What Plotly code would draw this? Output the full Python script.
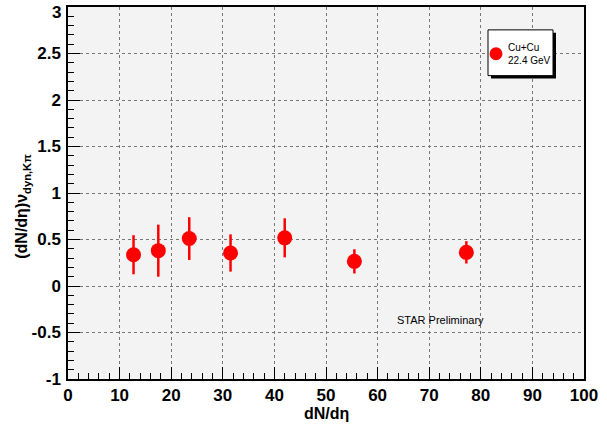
import plotly.graph_objects as go

# Data
dndeta = [12.7, 17.5, 23.5, 31.5, 42.0, 55.5, 77.2]
nu_dyn = [0.336, 0.380, 0.510, 0.355, 0.518, 0.265, 0.362]
err = [0.21, 0.28, 0.23, 0.20, 0.21, 0.13, 0.12]

x_ticks = [0, 10, 20, 30, 40, 50, 60, 70, 80, 90, 100]
y_ticks = [-1, -0.5, 0, 0.5, 1, 1.5, 2, 2.5]
y_ticklabels = ["-1", "-0.5", "0", "0.5", "1", "1.5", "2", "2.5"]
y_top_label = "3"

RED = "#ff0000"
FONT = "Liberation Sans"

fig = go.Figure()
fig.add_trace(go.Scatter(
    x=dndeta, y=nu_dyn, mode="markers",
    marker=dict(color=RED, size=15, line=dict(width=0)),
    error_y=dict(type="data", array=err, color=RED, thickness=2.5, width=0),
    showlegend=False,
))

fig.update_layout(
    width=607, height=424,
    margin=dict(l=68, r=23, t=5, b=45),
    paper_bgcolor="white",
    plot_bgcolor="#f3f3f3",
    font=dict(family=FONT, color="black"),
    xaxis=dict(
        range=[0, 100], tickvals=x_ticks, ticktext=[str(v) for v in x_ticks],
        showline=True, linecolor="black", linewidth=1.5, mirror=True,
        ticks="inside", ticklen=12, tickcolor="black", tickwidth=1,
        minor=dict(dtick=2, ticks="inside", ticklen=6, tickcolor="black", showgrid=False),
        showgrid=True, gridcolor="#777777", griddash="dot", gridwidth=1,
        zeroline=False,
        tickfont=dict(family=FONT, size=17, color="black", weight="bold"),
    ),
    yaxis=dict(
        range=[-1, 3], tickvals=y_ticks + [3], ticktext=y_ticklabels + [""],
        showline=True, linecolor="black", linewidth=1.5, mirror=True,
        ticks="inside", ticklen=12, tickcolor="black", tickwidth=1,
        minor=dict(dtick=0.1, ticks="inside", ticklen=6, tickcolor="black", showgrid=False),
        showgrid=True, gridcolor="#777777", griddash="dot", gridwidth=1,
        zeroline=False,
        tickfont=dict(family=FONT, size=17, color="black", weight="bold"),
        ticklabelstandoff=2,
    ),
)

# Top y label (drawn as annotation so it is not dropped at the edge)
fig.add_annotation(
    text=y_top_label, xref="paper", yref="paper", x=0, xshift=-5, y=1, yshift=6,
    xanchor="right", yanchor="top", showarrow=False,
    font=dict(family=FONT, size=17, color="black", weight="bold"),
)

# Axis titles
fig.add_annotation(
    text="dN/dη", xref="paper", yref="paper", x=0.5, y=0, yshift=-24,
    xanchor="center", yanchor="top", showarrow=False,
    font=dict(family=FONT, size=16, color="black", weight="bold"),
)
fig.add_annotation(
    text="(dN/dη)ν<sub>dyn,Kπ</sub>", xref="paper", yref="paper",
    x=0, xshift=-45, y=0.463, xanchor="center", yanchor="middle",
    textangle=-90, showarrow=False,
    font=dict(family=FONT, size=16, color="black", weight="bold"),
)

# STAR Preliminary
fig.add_annotation(
    text="STAR Preliminary", x=72.1, y=-0.37, xref="x", yref="y",
    showarrow=False, font=dict(family=FONT, size=11, color="black"),
)

# Legend box (drawn) with shadow
L, R, T, B = 68, 584, 5, 379
pw, ph = R - L, B - T
def px(x):
    return (x - L) / pw
def py(y):
    return (B - y) / ph

bx0, by0, bx1, by1 = 488, 28, 553, 74
fig.add_shape(type="rect", xref="paper", yref="paper",
              x0=px(bx0 + 3), x1=px(bx1 + 3), y0=py(by1 + 3), y1=py(by0 + 3),
              fillcolor="black", line=dict(width=0), layer="above")
fig.add_shape(type="rect", xref="paper", yref="paper",
              x0=px(bx0), x1=px(bx1), y0=py(by1), y1=py(by0),
              fillcolor="white", line=dict(color="black", width=1), layer="above")
fig.add_shape(type="circle", xref="paper", yref="paper",
              x0=px(489.5), x1=px(502.5), y0=py(58.5), y1=py(45.5),
              fillcolor=RED, line=dict(width=0), layer="above")
fig.add_annotation(
    text="Cu+Cu<br>22.4 GeV", xref="paper", yref="paper",
    x=px(506), y=py(52), xanchor="left", yanchor="middle", align="left",
    showarrow=False, font=dict(family=FONT, size=10, color="black"),
)

fig.write_html("out.html")
